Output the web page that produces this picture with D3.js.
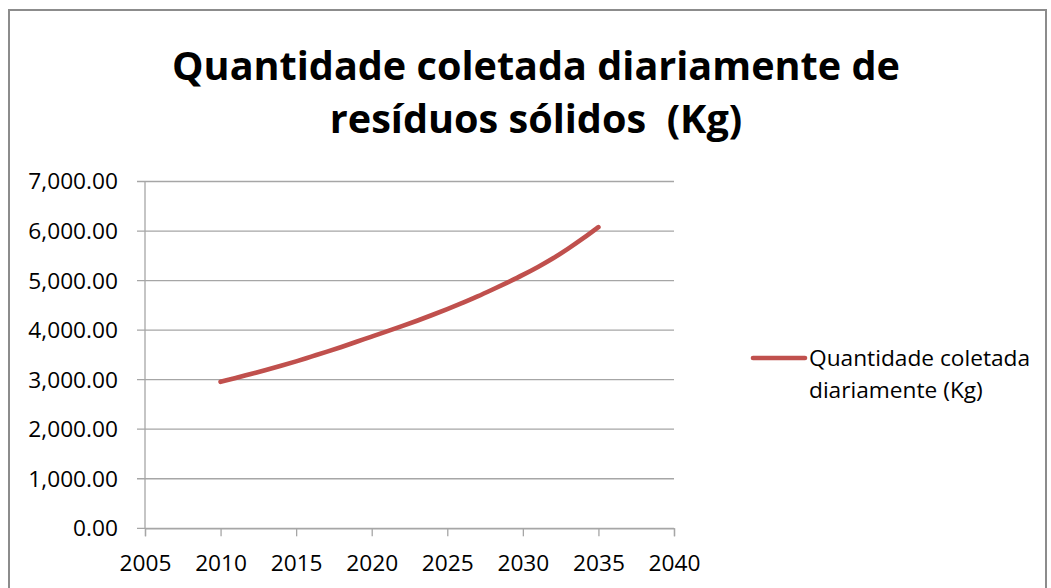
<!DOCTYPE html>
<html>
<head>
<meta charset="utf-8">
<script src="https://cdn.jsdelivr.net/npm/d3@7"></script>
<style>
  body { margin: 0; background: #fff; }
  svg { display: block; font-family: "Open Sans", sans-serif; }
  .title text { white-space: pre; }
</style>
</head>
<body>
<svg id="chart" width="1051" height="588"></svg>
<script>
// data
var years = [2010, 2011, 2012, 2013, 2014, 2015, 2016, 2017, 2018, 2019, 2020, 2021, 2022,
             2023, 2024, 2025, 2026, 2027, 2028, 2029, 2030, 2031, 2032, 2033, 2034, 2035];
var quantidade = [2956, 3035, 3115, 3195, 3280, 3370, 3465, 3560, 3660, 3765, 3870, 3975, 4080,
                  4190, 4305, 4425, 4550, 4680, 4820, 4965, 5115, 5275, 5450, 5645, 5855, 6080];
var xTicks = [2005, 2010, 2015, 2020, 2025, 2030, 2035, 2040];
var yTicks = [0, 1000, 2000, 3000, 4000, 5000, 6000, 7000];
var titleLines = ["Quantidade coletada diariamente de", "resíduos sólidos  (Kg)"];
var legendLines = ["Quantidade coletada", "diariamente (Kg)"];

var lineColor = "#C0504D";
var gridColor = "#A6A6A6";
var labelSize = 22.7;

var svg = d3.select("#chart");

// chart border
svg.append("rect")
    .attr("x", 9).attr("y", 10)
    .attr("width", 1037).attr("height", 600)
    .attr("fill", "none")
    .attr("stroke", "#8C8C8C")
    .attr("stroke-width", 2);

// title, fitted to the width of the first line
var title = svg.append("g").attr("class", "title")
    .attr("font-weight", "bold").attr("fill", "#000");
var t1 = title.append("text").attr("x", 536).attr("y", 80)
    .attr("text-anchor", "middle").style("font-size", "40px").text(titleLines[0]);
var w = t1.node().getComputedTextLength();
var titleSize = 40 * 728 / w;
t1.style("font-size", titleSize + "px");
title.append("text").attr("x", 536).attr("y", 133)
    .attr("xml:space", "preserve")
    .attr("text-anchor", "middle").style("font-size", titleSize + "px").text(titleLines[1]);

// plot area
var plotLeft = 145, plotRight = 674, plotTop = 181.5, plotBottom = 528.3;
var x = d3.scaleLinear().domain([2005, 2040]).range([plotLeft, plotRight]);
var y = d3.scaleLinear().domain([0, 7000]).range([plotBottom, plotTop]);

// gridlines (with outside tick stubs)
svg.append("g")
    .selectAll("line")
    .data(yTicks).enter()
    .append("line")
        .attr("x1", plotLeft - 8)
        .attr("x2", plotRight)
        .attr("y1", d => y(d))
        .attr("y2", d => y(d))
        .attr("stroke", gridColor)
        .attr("stroke-width", 1.3);

// y axis line
svg.append("line")
    .attr("x1", plotLeft).attr("x2", plotLeft)
    .attr("y1", plotTop).attr("y2", plotBottom)
    .attr("stroke", gridColor).attr("stroke-width", 1.3);

// x axis
var xAxis = svg.append("g")
    .attr("transform", "translate(0," + plotBottom + ")")
    .call(d3.axisBottom(x).tickValues(xTicks).tickFormat(d3.format("d")).tickSize(8).tickPadding(19));
xAxis.select(".domain").attr("stroke", gridColor).attr("stroke-width", 1.3);
xAxis.selectAll(".tick line").attr("stroke", gridColor).attr("stroke-width", 1.3);
xAxis.selectAll(".tick text")
    .attr("fill", "#000")
    .style("font-size", labelSize + "px")
    .style("font-family", "Open Sans, sans-serif");

// y labels
svg.append("g")
    .selectAll("text")
    .data(yTicks).enter()
    .append("text")
        .attr("x", 118)
        .attr("y", d => y(d))
        .attr("dy", "0.35em")
        .attr("text-anchor", "end")
        .attr("fill", "#000")
        .style("font-size", labelSize + "px")
        .text(d => d3.format(",.2f")(d));

// series line
var line = d3.line()
    .x((d, i) => x(years[i]))
    .y(d => y(d))
    .curve(d3.curveMonotoneX);
svg.append("path")
    .datum(quantidade)
    .attr("d", line)
    .attr("fill", "none")
    .attr("stroke", lineColor)
    .attr("stroke-width", 4.6)
    .attr("stroke-linecap", "round")
    .attr("stroke-linejoin", "round");

// legend
svg.append("line")
    .attr("x1", 753).attr("x2", 805)
    .attr("y1", 358).attr("y2", 358)
    .attr("stroke", lineColor)
    .attr("stroke-width", 4.6)
    .attr("stroke-linecap", "round");
svg.append("g")
    .selectAll("text")
    .data(legendLines).enter()
    .append("text")
        .attr("x", 809)
        .attr("y", (d, i) => 366 + i * 32)
        .attr("fill", "#000")
        .style("font-size", labelSize + "px")
        .text(d => d);
</script>
</body>
</html>
